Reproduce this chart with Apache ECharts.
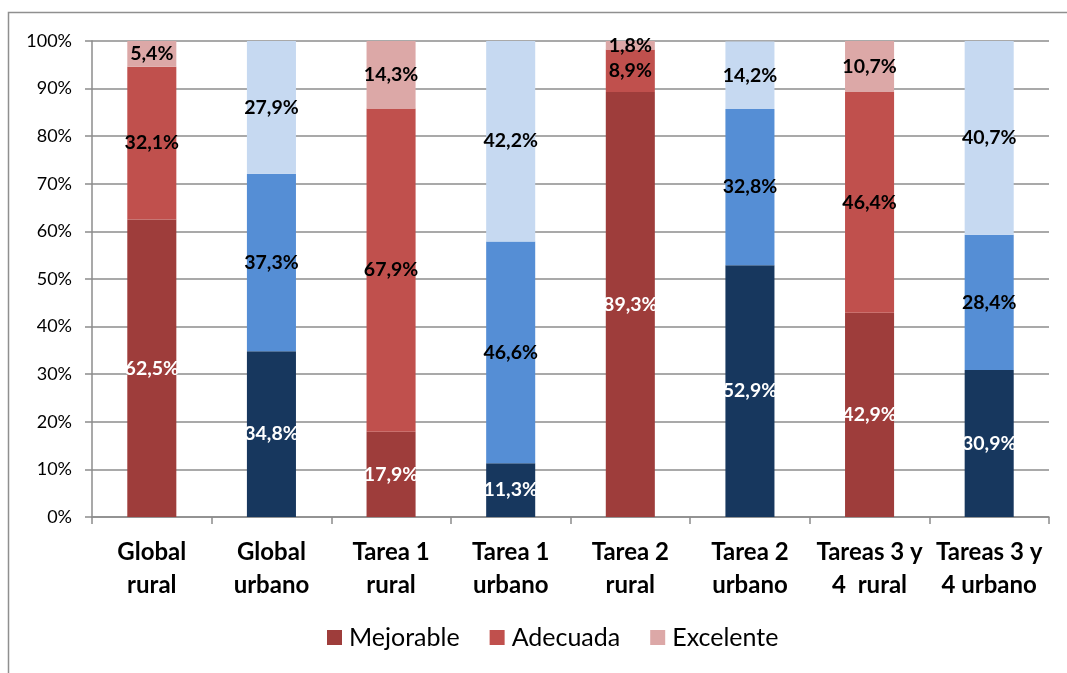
<!DOCTYPE html>
<html>
<head>
<meta charset="utf-8">
<title>Resultados por tarea y ámbito</title>
<script src="https://cdn.jsdelivr.net/npm/echarts@6/dist/echarts.min.js"></script>
<style>
  html, body { margin: 0; padding: 0; background: #fff; }
  #chart { width: 1067px; height: 673px; }
</style>
</head>
<body>
<div id="chart"></div>
<script>
// Categories (rural / urban for each block)
const categories = [
  'Global\nrural', 'Global\nurbano', 'Tarea 1\nrural', 'Tarea 1\nurbano',
  'Tarea 2\nrural', 'Tarea 2\nurbano', 'Tareas 3 y\n4  rural', 'Tareas 3 y\n4 urbano'
];
const isUrban = [false, true, false, true, false, true, false, true];

// Percentages per level
const mejorable = [62.5, 34.8, 17.9, 11.3, 89.3, 52.9, 42.9, 30.9];
const adecuada  = [32.1, 37.3, 67.9, 46.6, 8.9, 32.8, 46.4, 28.4];
const excelente = [5.4, 27.9, 14.3, 42.2, 1.8, 14.2, 10.7, 40.7];

const seriesNames = ['Mejorable', 'Adecuada', 'Excelente'];
const ruralColors = ['#9E3D3B', '#C0504D', '#DCA8A7'];
const urbanColors = ['#17375E', '#558ED5', '#C6D9F1'];
const labelColors = ['#ffffff', '#000000', '#000000'];

const FONT = 'Lato, "Open Sans", sans-serif';
const fmt = v => v.toFixed(1).replace('.', ',') + '%';

const values = [mejorable, adecuada, excelente];

const series = values.map((arr, s) => ({
  name: seriesNames[s],
  type: 'bar',
  stack: 'total',
  barWidth: '41%',
  itemStyle: { color: ruralColors[s] },
  label: {
    show: true,
    position: 'inside',
    color: labelColors[s],
    fontFamily: FONT,
    fontWeight: 'bold',
    fontSize: 19.5,
    formatter: p => fmt(p.value)
  },
  data: arr.map((v, i) => ({
    value: v,
    itemStyle: { color: isUrban[i] ? urbanColors[s] : ruralColors[s] }
  }))
}));

const chart = echarts.init(document.getElementById('chart'), null, { renderer: 'canvas' });
chart.setOption({
  animation: false,
  backgroundColor: '#ffffff',
  graphic: [{
    type: 'rect',
    shape: { x: 8.5, y: 12.5, width: 1080, height: 700 },
    style: { fill: 'none', stroke: '#8f8f8f', lineWidth: 1.5 },
    silent: true
  }],
  grid: { left: 92, right: 18, top: 41, bottom: 156 },
  legend: {
    data: seriesNames,
    bottom: 18,
    left: 322,
    itemWidth: 15,
    itemHeight: 15,
    itemGap: 30,
    icon: 'rect',
    textStyle: { fontFamily: FONT, fontSize: 25, color: '#000', padding: [0, 0, 0, 2] }
  },
  xAxis: {
    type: 'category',
    data: categories,
    axisLine: { lineStyle: { color: '#8c8c8c', width: 1.5 } },
    axisTick: { show: true, length: 7, lineStyle: { color: '#8c8c8c', width: 1.5 } },
    axisLabel: {
      interval: 0,
      margin: 19,
      fontFamily: FONT,
      fontWeight: 'bold',
      fontSize: 24,
      lineHeight: 33,
      color: '#000'
    }
  },
  yAxis: {
    type: 'value',
    min: 0,
    max: 100,
    interval: 10,
    axisLine: { show: true, lineStyle: { color: '#8c8c8c', width: 1.5 } },
    axisTick: { show: true, length: 7, lineStyle: { color: '#8c8c8c', width: 1.5 } },
    splitLine: { lineStyle: { color: '#8c8c8c', width: 1.5 } },
    axisLabel: {
      formatter: '{value}%',
      margin: 20,
      fontFamily: FONT,
      fontSize: 18,
      color: '#000'
    }
  },
  series: series
});
</script>
</body>
</html>
